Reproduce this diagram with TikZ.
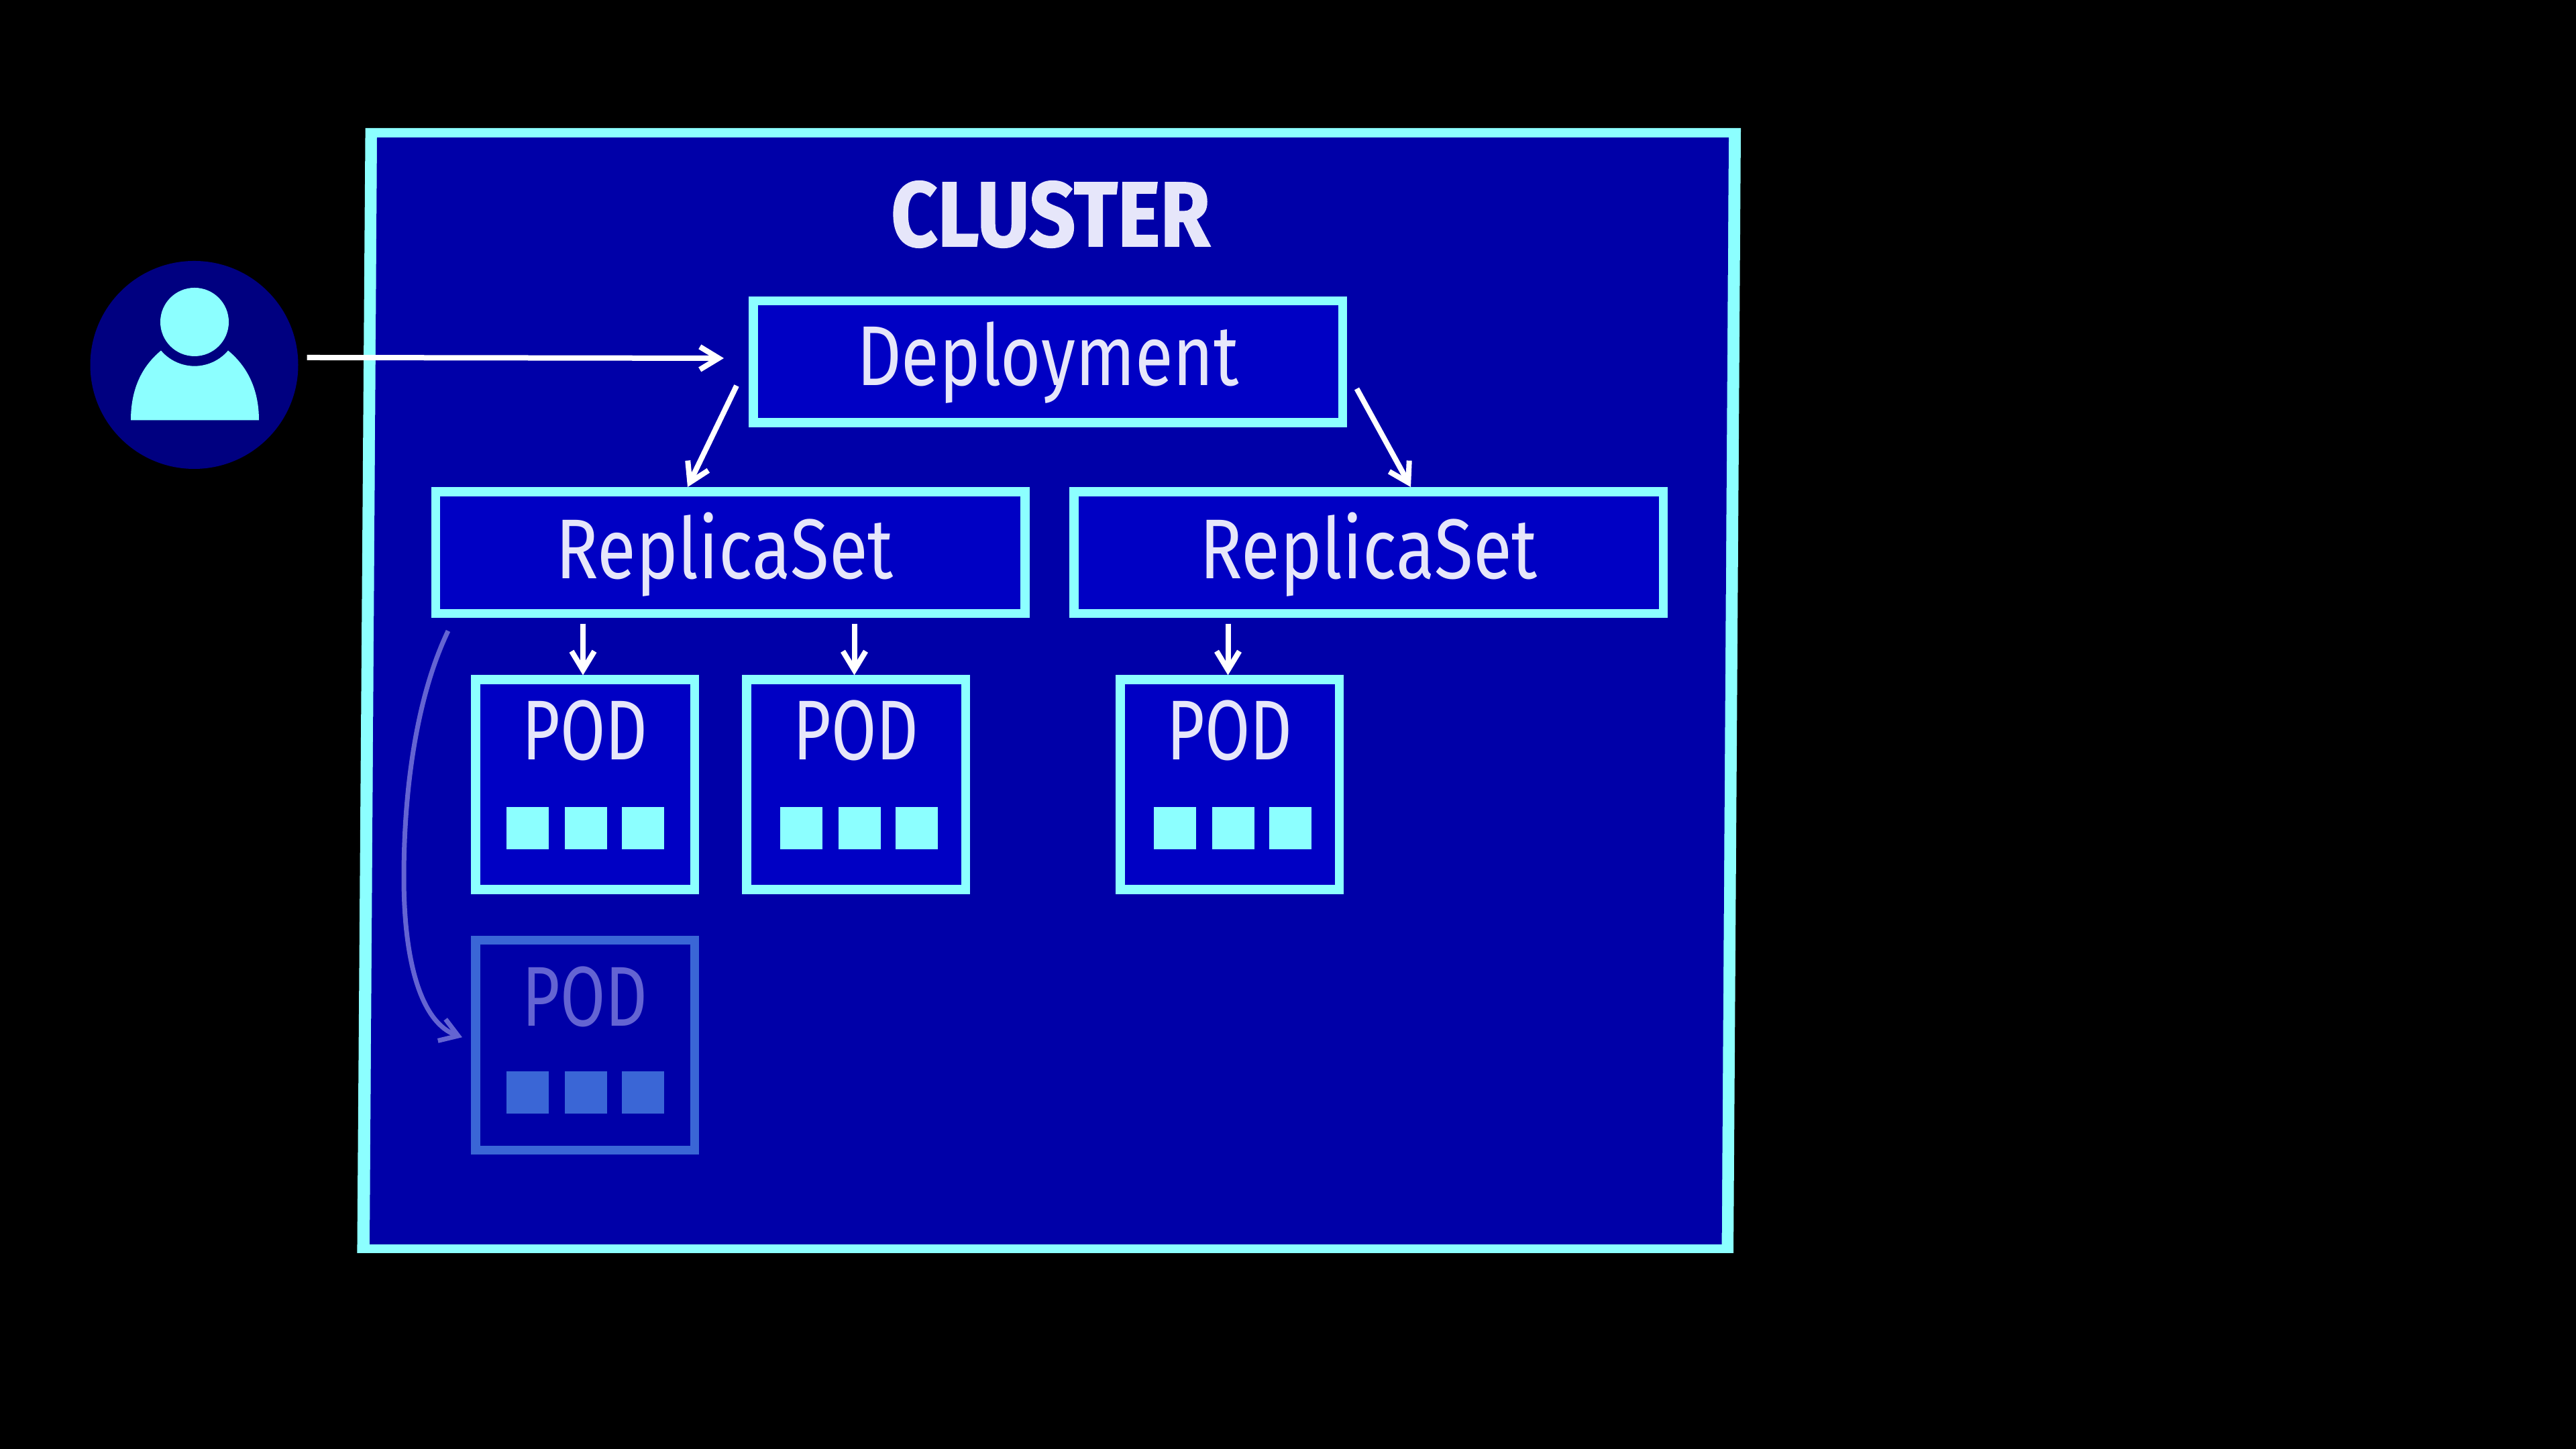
\documentclass[tikz,border=0pt]{standalone}
\usepackage{fontspec}
\usepackage{xcolor}
\usetikzlibrary{arrows.meta, positioning, calc}
\setmainfont{Fira Sans}[FakeStretch=0.82]
\newfontfamily\rsfont{Fira Sans}[FakeStretch=0.835]
\newfontfamily\podfont{Fira Sans}[FakeStretch=0.77]
\newfontfamily\titlefont{Fira Sans Bold}[FakeStretch=0.88, FakeBold=1.2]
\definecolor{aqua}{HTML}{8CFFFF}
\definecolor{clusterblue}{HTML}{0000A8}
\definecolor{boxblue}{HTML}{0000C4}
\definecolor{userblue}{HTML}{000080}
\definecolor{labeltext}{HTML}{E6E6FA}
\definecolor{fadeline}{HTML}{3A66D6}
\definecolor{fadetext}{HTML}{6464D2}
\tikzstyle{titletext} = [anchor=base, inner sep=0pt, text=labeltext, font=\fontsize{39pt}{39pt}\titlefont]
\tikzstyle{deploybox} = [rectangle, minimum width=8.785cm, minimum height=1.815cm, line width=.135cm, draw=aqua, fill=boxblue, text=labeltext, font=\fontsize{36pt}{36pt}\selectfont, inner sep=0pt, text height=.87cm, text depth=.16cm]
\tikzstyle{rsbox} = [deploybox, text depth=.09cm, font=\fontsize{36pt}{36pt}\rsfont]
\tikzstyle{podbox} = [rectangle, minimum width=3.265cm, minimum height=3.13cm, line width=.135cm, draw=aqua, fill=boxblue]
\tikzstyle{podfade} = [podbox, draw=fadeline, fill=clusterblue]
\tikzstyle{podtext} = [anchor=base, inner sep=0pt, text=labeltext, font=\fontsize{36pt}{36pt}\podfont]
\tikzstyle{podsquare} = [rectangle, minimum size=.63cm, inner sep=0pt, fill=aqua]
\tikzstyle{arrow} = [line width=.08cm, white, -{Straight Barb[length=.28cm,width=.34cm]}]
\tikzstyle{fadearrow} = [line width=.07cm, fadetext, -{Straight Barb[length=.26cm,width=.34cm]}]

\begin{document}
\begin{tikzpicture}[node distance=4.04cm]
\useasboundingbox (0,0) rectangle (38.4,21.6);
\fill [black] (0,0) rectangle (38.4,21.6);

% cluster frame is slightly skewed
\fill [aqua] (5.446,19.69) -- (25.95,19.69) -- (25.84,2.92) -- (5.324,2.92) -- cycle;
\fill [clusterblue] (5.62,19.55) -- (25.77,19.55) -- (25.666,3.05) -- (5.51,3.05) -- cycle;
\node (title) [titletext] at (15.66,17.93) {CLUSTER};

% user icon
\node (user) [circle, minimum size=3.1cm, inner sep=0pt, fill=userblue] at (2.895,16.16) {};
\node (head) [circle, minimum size=1.02cm, inner sep=0pt, fill=aqua] at (2.90,16.80) {};
\fill [aqua] (1.95,15.335) .. controls (1.95,15.75) and (2.08,16.11) .. (2.40,16.374) arc[start angle=220.4, end angle=319.6, radius=.657] .. controls (3.72,16.11) and (3.86,15.75) .. (3.86,15.335) -- cycle;

\node (deployment) [deploybox] at (15.62,16.205) {Deployment};
\node (rsleft) [rsbox] at (10.885,13.364) {ReplicaSet\kern.17cm};
\node (rsright) [rsbox, right of=rsleft, xshift=5.475cm] {ReplicaSet};

\node (podA) [podbox] at (8.72,9.9025) {};
\node (podB) [podbox, right of=podA] {};
\node (podC) [podbox, right of=podB, xshift=1.53cm] {};
\node (podD) [podfade, below of=podA, yshift=.155cm] {};

\node (podAtxt) [podtext] at ([yshift=-1.265cm]podA.north) {POD};
\node (podBtxt) [podtext] at ([yshift=-1.265cm]podB.north) {POD};
\node (podCtxt) [podtext] at ([yshift=-1.265cm]podC.north) {POD};
\node (podDtxt) [podtext, text=fadetext] at ([yshift=-1.35cm]podD.north) {POD};

\foreach \pod/\sx in {A/.84, B/.88, C/.88} {
  \foreach \n/\dx in {1/0, 2/.875, 3/1.72} {
    \node (sq\pod\n) [podsquare] at ([shift={(\sx+\dx,-2.283)}]pod\pod.north west) {};
  }
}
\foreach \n/\dx in {1/0, 2/.875, 3/1.72} {
  \node (sqD\n) [podsquare, fill=fadeline] at ([shift={(.84+\dx,-2.335)}]podD.north west) {};
}

\draw [arrow] ([shift={(.125,.11)}]user.east) -- ([shift={(-.37,.055)}]deployment.west);
\draw [arrow] ([shift={(-.18,-.355)}]deployment.west) -- ([xshift=-.635cm]rsleft.north);
\draw [arrow] ([shift={(.145,-.40)}]deployment.east) -- ([xshift=.63cm]rsright.north);
\draw [arrow] ([xshift=-.03cm,yshift=-.085cm]rsleft.south -| podA.north) -- ([xshift=-.03cm]podA.north);
\draw [arrow] ([xshift=-.025cm,yshift=-.085cm]rsleft.south -| podB.north) -- ([xshift=-.025cm]podB.north);
\draw [arrow] ([xshift=-.025cm,yshift=-.085cm]rsright.south -| podC.north) -- ([xshift=-.025cm]podC.north);
\draw [fadearrow] ([shift={(.255,-.194)}]rsleft.south west) .. controls +(-.48,-1.0) and +(0,1.28) .. (6.02,8.52) .. controls +(0,-1.32) and +(-.59,.21) .. ([shift={(-.13,.12)}]podD.west);
\end{tikzpicture}
\end{document}
